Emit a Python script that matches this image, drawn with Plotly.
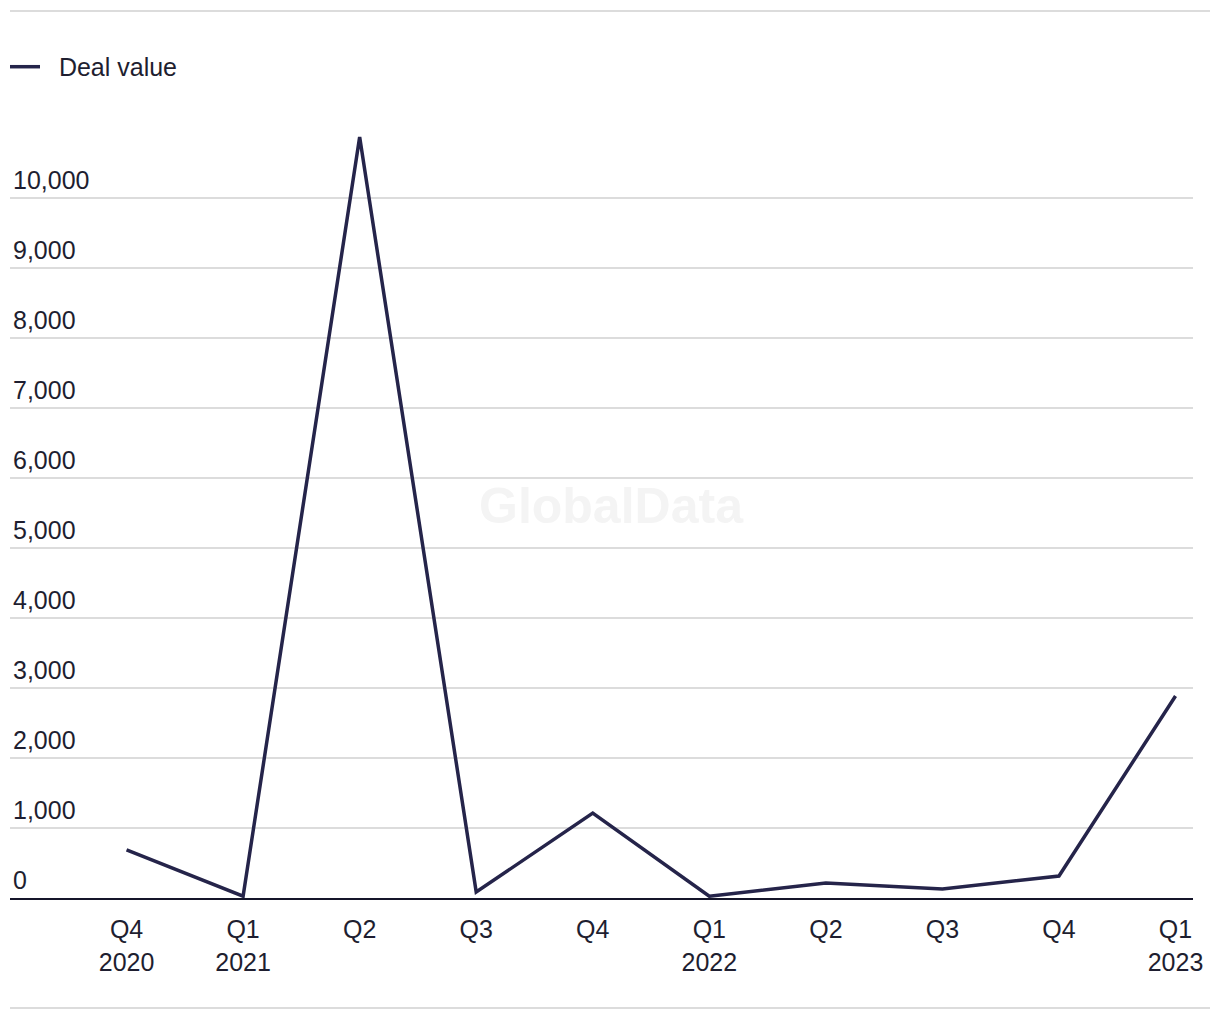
import plotly.graph_objects as go

quarters = ["Q4<br>2020", "Q1<br>2021", "Q2", "Q3", "Q4", "Q1<br>2022", "Q2", "Q3", "Q4", "Q1<br>2023"]
deal_value = [686, 25, 10870, 85, 1214, 25, 214, 130, 314, 2886]
y_ticks = [0, 1000, 2000, 3000, 4000, 5000, 6000, 7000, 8000, 9000, 10000]
y_tick_text = ["0", "1,000", "2,000", "3,000", "4,000", "5,000", "6,000", "7,000", "8,000", "9,000", "10,000"]

x_idx = list(range(len(quarters)))
line_color = "#25244a"
text_color = "#1e1e30"
font_family = "Liberation Sans, Arial, sans-serif"

fig = go.Figure()
fig.add_trace(go.Scatter(
    x=x_idx, y=deal_value, mode="lines", name="\u00a0\u00a0Deal value",
    line=dict(color=line_color, width=3.5), cliponaxis=False,
))

dom0 = 5 / 1188
fig.update_layout(
    width=1220, height=1020,
    margin=dict(l=5, r=27, t=114, b=122, autoexpand=False),
    paper_bgcolor="white", plot_bgcolor="white",
    font=dict(family=font_family, size=25, color=text_color),
    showlegend=True,
    legend=dict(orientation="h", x=0, xanchor="left", y=1.06, yanchor="middle",
                font=dict(size=25, color=text_color), bgcolor="rgba(0,0,0,0)",
                itemwidth=30),
    xaxis=dict(
        domain=[dom0, 1],
        tickmode="array", tickvals=x_idx, ticktext=quarters,
        range=[-1.0, 9.15], showgrid=False, zeroline=False,
        showline=True, linecolor="#15152a", linewidth=2,
        ticks="", ticklabelstandoff=8, tickfont=dict(size=25, color=text_color),
    ),
    yaxis=dict(
        tickmode="array", tickvals=y_ticks, ticktext=y_tick_text,
        range=[0, 11200], showgrid=True, gridcolor="#dcdcdc", gridwidth=2,
        zeroline=False, showline=False, ticks="",
        ticklabelposition="inside top",
        tickfont=dict(size=25, color=text_color),
    ),
)

# watermark
fig.add_annotation(text="<b>GlobalData</b>", x=0.5, y=0.5, xref="paper", yref="paper",
                   xanchor="center", yanchor="middle", showarrow=False, xshift=12,
                   font=dict(size=50, color="#f4f4f4", family=font_family))

# top and bottom separator lines
fig.add_shape(type="line", xref="paper", yref="paper", x0=dom0, x1=1205 / 1188,
              y0=1.1314, y1=1.1314, line=dict(color="#dcdcdc", width=2))
fig.add_shape(type="line", xref="paper", yref="paper", x0=dom0, x1=1205 / 1188,
              y0=-0.1403, y1=-0.1403, line=dict(color="#dcdcdc", width=2))

fig.write_html("out.html")
